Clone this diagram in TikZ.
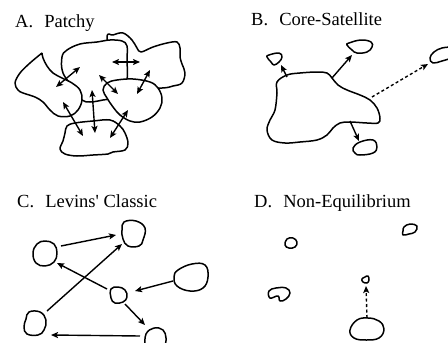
\documentclass[tikz,border=0pt]{standalone}
\usepackage{fontspec}
\setmainfont{Liberation Serif}
\newfontfamily\plainserif{Liberation Serif}
\usetikzlibrary{arrows.meta}
\begin{document}
\begin{tikzpicture}[x=1pt,y=-1pt,
  blob/.style={line width=1.5pt, fill=white, line join=round},
  tip/.tip={Stealth[length=7pt,width=6pt,inset=1.5pt]},
  conn/.style={line width=1.4pt, -tip},
  dconn/.style={line width=1.4pt, tip-tip},
  dashconn/.style={conn, dash pattern=on 3pt off 2.5pt},
  title/.style={anchor=base west, inner sep=0pt, font=\fontsize{18.5}{20}\selectfont}]
\useasboundingbox[fill=white] (0,0) rectangle (448,343);

% titles
\node[title] (tA) at (15,27) {A.\hspace{0.35em} Patchy};
\node[title] (tB) at (251,25) {B.\hspace{0.35em} Core-Satellite};
\node[title] (tC) at (17,207) {C.\hspace{0.35em} Levins{\plainserif '} Classic};
\node[title] (tD) at (254,207) {D.\hspace{0.35em} Non-Equilibrium};

% ---------- A. Patchy ----------
\filldraw[blob] plot[smooth cycle, tension=0.6] coordinates {(107,38) (113,35) (123,33) (132,40) (137,48) (141,52) (153,47) (167,43) (177,42) (180,48) (180,57) (182,64) (185,73) (182,83) (173,86) (162,88) (130,88) (112,80)};
\filldraw[blob] plot[smooth cycle, tension=0.6] coordinates {(62,57) (67,50) (80,44) (97,42) (110,40) (122,41) (127,46) (127,60) (127,80) (120,96) (103,100) (90,102) (82,100) (75,90) (63,73)};
\filldraw[blob] plot[smooth, tension=0.6] coordinates {(42,53) (30,63) (20,73) (15,83) (18,90) (23,93) (35,97) (43,102) (50,110) (58,116) (70,116) (78,110) (82,100) (80,90) (72,83) (62,78) (53,73) (47,66) (43,58) (42,53)};
\filldraw[blob] plot[smooth cycle, tension=0.6] coordinates {(103,90) (107,83) (117,80) (133,79) (150,82) (158,88) (162,98) (160,108) (152,117) (140,122) (130,121) (120,115) (113,107) (107,98)};
\filldraw[blob] plot[smooth cycle, tension=0.6] coordinates {(67,126) (75,123) (93,121) (110,120) (120,126) (125,133) (128,143) (125,150) (113,152) (108,154) (93,155) (77,156) (65,154) (60,149) (63,141) (65,133)};

\coordinate (a1s) at (56,87);  \coordinate (a1e) at (80,67);
\coordinate (a2s) at (112,62); \coordinate (a2e) at (140,62);
\coordinate (a3s) at (99,75);  \coordinate (a3e) at (118,94);
\coordinate (a4s) at (137,94); \coordinate (a4e) at (150,70);
\coordinate (a5s) at (92,90);  \coordinate (a5e) at (95,133);
\coordinate (a6s) at (63,102); \coordinate (a6e) at (83,136);
\coordinate (a7s) at (110,138);\coordinate (a7e) at (128,110);
\foreach \i in {1,...,7} \draw[dconn] (a\i s) -- (a\i e);

% ---------- B. Core-Satellite ----------
\filldraw[blob] plot[smooth cycle, tension=0.6] coordinates {(277,82) (287,75) (300,73) (317,72) (327,73) (332,78) (338,85) (347,90) (360,95) (370,100) (377,108) (380,118) (378,123) (367,123) (350,122) (340,123) (333,128) (327,135) (317,140) (300,142) (285,143) (272,140) (267,130) (270,120) (275,110) (277,93)};
\filldraw[blob] plot[smooth cycle, tension=0.7] coordinates {(269,55) (279,53) (282,57) (279,62) (274,65) (271,62) (267,57)};
\filldraw[blob] plot[smooth cycle, tension=0.7] coordinates {(349,43) (361,40) (371,42) (372,47) (367,52) (357,53) (352,50) (347,45)};
\filldraw[blob] plot[smooth cycle, tension=0.7] coordinates {(353,148) (360,142) (373,140) (377,147) (373,153) (360,155) (355,153)};
\draw[blob] plot[smooth, tension=0.7] coordinates {(452,47) (442,48) (434,52) (430,58) (433,63) (442,61) (452,58)};

\coordinate (b1s) at (287,77);  \coordinate (b1e) at (281,65);
\coordinate (b2s) at (332,78);  \coordinate (b2e) at (352,55);
\coordinate (b3s) at (372,97);  \coordinate (b3e) at (428,64);
\coordinate (b4s) at (350,121); \coordinate (b4e) at (359,141);
\draw[conn] (b1s) -- (b1e);
\draw[conn] (b2s) -- (b2e);
\draw[dashconn] (b3s) -- (b3e);
\draw[conn] (b4s) -- (b4e);

% ---------- C. Levins' Classic ----------
\filldraw[blob] plot[smooth cycle, tension=0.7] coordinates {(45,241) (54,244) (57,253) (54,262) (45,266) (36,263) (33,253) (37,244)};
\filldraw[blob] plot[smooth cycle, tension=0.7] coordinates {(124,222) (136,221) (145,228) (143,240) (139,246) (128,246) (123,239) (122,230)};
\filldraw[blob] plot[smooth cycle, tension=0.7] coordinates {(178,270) (192,264) (205,265) (208,277) (203,288) (190,291) (177,286) (174,277)};
\filldraw[blob] plot[smooth cycle, tension=0.7] coordinates {(111,289) (118,287) (125,290) (127,297) (123,302) (115,303) (111,298)};
\filldraw[blob] plot[smooth cycle, tension=0.7] coordinates {(29,312) (40,312) (46,320) (44,330) (38,335) (27,334) (24,327) (26,319)};
\draw[blob] plot[smooth, tension=0.7] coordinates {(145,346) (146,334) (154,328) (163,330) (166,338) (165,346)};

\coordinate (c1s) at (61,246);  \coordinate (c1e) at (116,235);
\coordinate (c2s) at (47,311);  \coordinate (c2e) at (122,244);
\coordinate (c3s) at (107,289); \coordinate (c3e) at (57,263);
\coordinate (c4s) at (173,281); \coordinate (c4e) at (135,291);
\coordinate (c5s) at (125,304); \coordinate (c5e) at (145,325);
\coordinate (c6s) at (140,336); \coordinate (c6e) at (51,335);
\foreach \i in {1,...,6} \draw[conn] (c\i s) -- (c\i e);

% ---------- D. Non-Equilibrium ----------
\filldraw[blob] plot[smooth cycle, tension=0.7] coordinates {(287,239) (293,238) (297,242) (295,247) (289,248) (285,245)};
\filldraw[blob] plot[smooth cycle, tension=0.7] coordinates {(404,227) (410,224) (417,226) (415,232) (409,234) (403,235) (403,231)};
\filldraw[blob] plot[smooth cycle, tension=0.7] coordinates {(269,291) (276,288) (286,288) (290,293) (286,299) (280,301) (278,296) (270,298)};
\filldraw[blob] plot[smooth cycle, tension=0.7] coordinates {(365,277) (368,276) (369,280) (367,283) (363,282) (362,279)};
\filldraw[blob] plot[smooth cycle, tension=0.7] coordinates {(357,320) (368,318) (379,321) (384,329) (379,338) (366,340) (354,338) (350,330)};
\coordinate (d1s) at (367,318); \coordinate (d1e) at (366,286);
\draw[dashconn] (d1s) -- (d1e);
\end{tikzpicture}
\end{document}
